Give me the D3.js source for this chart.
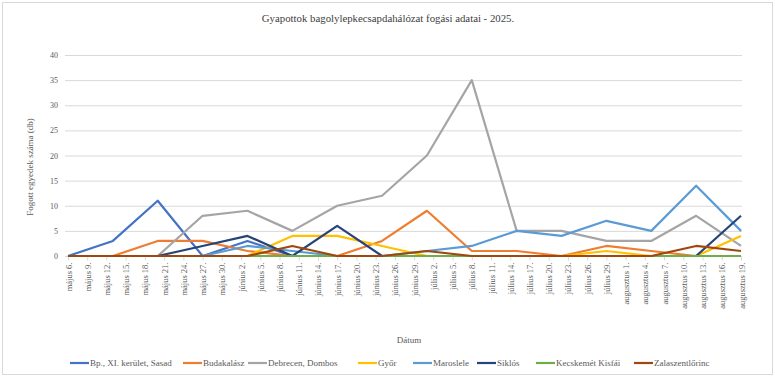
<!DOCTYPE html>
<html>
<head>
<meta charset="utf-8">
<script src="https://cdn.jsdelivr.net/npm/d3@7"></script>
<style>
  body { margin: 0; background: #fff; }
  svg { display: block; font-family: "Liberation Serif", "Times New Roman", serif; }
</style>
</head>
<body>
<script>
// Weekly sampling dates (Tuesdays)
var dates = ["2025-05-06", "2025-05-13", "2025-05-20", "2025-05-27", "2025-06-03", "2025-06-10",
    "2025-06-17", "2025-06-24", "2025-07-01", "2025-07-08", "2025-07-15", "2025-07-22",
    "2025-07-29", "2025-08-05", "2025-08-12", "2025-08-19"];

var seriesNames = ["Bp., XI. kerület, Sasad", "Budakalász", "Debrecen, Dombos", "Győr",
    "Maroslele", "Siklós", "Kecskemét Kisfái", "Zalaszentlőrinc"];

var sasad = [0, 3, 11, 0, 3, 0, 0, 0, 0, 0, 0, 0, 0, 0, 0, 0];
var budakalasz = [0, 0, 3, 3, 1, 0, 0, 3, 9, 1, 1, 0, 2, 1, 0, 0];
var debrecen = [0, 0, 0, 8, 9, 5, 10, 12, 20, 35, 5, 5, 3, 3, 8, 2];
var gyor = [0, 0, 0, 0, 0, 4, 4, 2, 0, 0, 0, 0, 1, 0, 0, 4];
var maroslele = [0, 0, 0, 0, 2, 1, 0, 0, 1, 2, 5, 4, 7, 5, 14, 5];
var siklos = [0, 0, 0, 2, 4, 0, 6, 0, 0, 0, 0, 0, 0, 0, 0, 8];
var kecskemet = [0, 0, 0, 0, 0, 0, 0, 0, 0, 0, 0, 0, 0, 0, 0, 0];
var zalaszentlorinc = [0, 0, 0, 0, 0, 2, 0, 0, 1, 0, 0, 0, 0, 0, 2, 1];

var colors = ["#4472C4", "#ED7D31", "#A5A5A5", "#FFC000", "#5B9BD5", "#264478", "#70AD47", "#9E480E"];

var yTicks = [0, 5, 10, 15, 20, 25, 30, 35, 40];
var huMonths = ["január", "február", "március", "április", "május", "június",
    "július", "augusztus", "szeptember", "október", "november", "december"];

var title = "Gyapottok bagolylepkecsapdahálózat fogási adatai - 2025.";
var yTitle = "Fogott egyedek száma (db)";
var xTitle = "Dátum";

var parseDay = d3.timeParse("%Y-%m-%d");
var allValues = [sasad, budakalasz, debrecen, gyor, maroslele, siklos, kecskemet, zalaszentlorinc];

var series = seriesNames.map(function(name, i) {
    return {
        name: name,
        color: colors[i],
        points: dates.map(function(d, j) { return { date: parseDay(d), value: allValues[i][j] }; })
    };
});

var W = 775, H = 377;
var plot = { left: 65, right: 742, top: 55, bottom: 256 };

var svg = d3.select("body").append("svg")
    .attr("width", W)
    .attr("height", H);

svg.append("rect")
    .attr("x", 2.5).attr("y", 2.5)
    .attr("width", 770).attr("height", 372)
    .attr("fill", "#fff")
    .attr("stroke", "#d9d9d9");

var start = parseDay(dates[0]), end = parseDay(dates[dates.length - 1]);

var x = d3.scaleTime()
    .domain([start, end])
    .range([68, 741]);

var y = d3.scaleLinear()
    .domain([0, 40])
    .range([plot.bottom, plot.top]);

// gridlines
svg.append("g")
    .selectAll("line")
    .data(yTicks)
    .enter().append("line")
    .attr("x1", plot.left).attr("x2", plot.right)
    .attr("y1", function(d) { return y(d) + 0.5; })
    .attr("y2", function(d) { return y(d) + 0.5; })
    .attr("stroke", "#d9d9d9")
    .attr("stroke-width", 1);

// y axis labels
svg.append("g")
    .selectAll("text")
    .data(yTicks)
    .enter().append("text")
    .attr("x", 58)
    .attr("y", function(d) { return y(d) + 3; })
    .attr("text-anchor", "end")
    .attr("font-size", "8px")
    .attr("fill", "#595959")
    .text(function(d) { return d; });

// x axis: ticks every 3 days
var tickDates = d3.timeDay.range(start, d3.timeDay.offset(end, 1), 3);
var fmtHu = function(d) { return huMonths[d.getMonth()] + " " + d.getDate() + "."; };

var xAxis = d3.axisBottom(x)
    .tickValues(tickDates)
    .tickSize(4)
    .tickSizeOuter(0)
    .tickFormat(fmtHu);

var gx = svg.append("g")
    .attr("transform", "translate(0," + (plot.bottom + 0.5) + ")")
    .call(xAxis);

gx.select(".domain").remove();
gx.selectAll(".tick line").attr("stroke", "#d9d9d9");
gx.selectAll(".tick text")
    .attr("font-family", "Liberation Serif, Times New Roman, serif")
    .attr("font-size", "8.5px")
    .attr("fill", "#595959")
    .attr("text-anchor", "end")
    .attr("dy", null)
    .attr("y", null)
    .attr("transform", "translate(3,6) rotate(-90)");

svg.append("line")
    .attr("x1", plot.left).attr("x2", plot.right)
    .attr("y1", plot.bottom + 0.5).attr("y2", plot.bottom + 0.5)
    .attr("stroke", "#d9d9d9");

// lines
var line = d3.line()
    .x(function(d) { return x(d.date); })
    .y(function(d) { return y(d.value); });

svg.append("g")
    .selectAll("path")
    .data(series)
    .enter().append("path")
    .attr("d", function(d) { return line(d.points); })
    .attr("fill", "none")
    .attr("stroke", function(d) { return d.color; })
    .attr("stroke-width", 2.2)
    .attr("stroke-linejoin", "round");

// titles
svg.append("text")
    .attr("x", 388).attr("y", 22)
    .attr("text-anchor", "middle")
    .attr("font-size", "10.8px")
    .attr("fill", "#404040")
    .text(title);

svg.append("text")
    .attr("transform", "translate(33,167) rotate(-90)")
    .attr("text-anchor", "middle")
    .attr("font-size", "9px")
    .attr("fill", "#595959")
    .text(yTitle);

svg.append("text")
    .attr("x", 409).attr("y", 343)
    .attr("text-anchor", "middle")
    .attr("font-size", "9px")
    .attr("fill", "#595959")
    .text(xTitle);

// legend
var legendX = [70, 183, 248, 358, 413, 477, 536, 634];
var legend = svg.append("g")
    .selectAll("g")
    .data(series)
    .enter().append("g")
    .attr("transform", function(d, i) { return "translate(" + legendX[i] + ",363)"; });

legend.append("line")
    .attr("x1", 0).attr("x2", 19)
    .attr("y1", 0).attr("y2", 0)
    .attr("stroke", function(d) { return d.color; })
    .attr("stroke-width", 2.2);

legend.append("text")
    .attr("x", 20).attr("y", 3)
    .attr("font-size", "9px")
    .attr("fill", "#595959")
    .text(function(d) { return d.name; });
</script>
</body>
</html>
